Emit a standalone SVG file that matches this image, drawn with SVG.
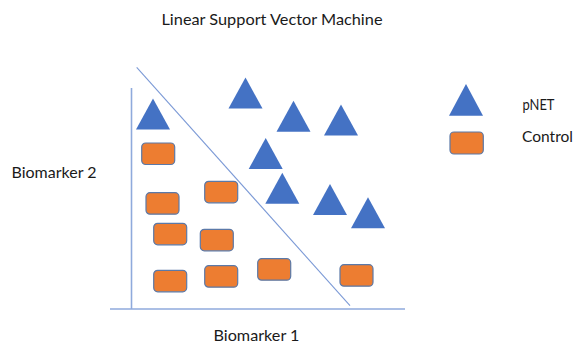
<svg xmlns="http://www.w3.org/2000/svg" width="574" height="345" viewBox="0 0 574 345">
<style>
text{font-family:Lato,"Open Sans","Liberation Sans",sans-serif;font-size:15px;fill:#1a1a1a}
.leg{font-size:16px}
.tri{fill:#4472C4}
.box{fill:#ED7D31;stroke:#5B79A8;stroke-width:1.2}
.axis{stroke:#8FAADC;stroke-width:1.6;fill:none}
.sep{stroke:#7C9AD6;stroke-width:1.1;fill:none}
</style>
<defs>
<polygon id="t" class="tri" points="0,-31 -17,0 17,0"/>
<rect id="b" class="box" x="0" y="0" width="33" height="21.5" rx="4"/>
</defs>
<g id="title"><text x="161.5" y="25" textLength="221" lengthAdjust="spacingAndGlyphs">Linear Support Vector Machine</text></g>
<g id="connectors">
<line class="axis" x1="131.5" y1="88" x2="131.5" y2="309"/>
<line class="axis" x1="110" y1="309" x2="405" y2="309"/>
<line class="sep" x1="136.7" y1="67.3" x2="350" y2="305.7"/>
</g>
<g id="label-y"><text x="11.5" y="177.5" textLength="85" lengthAdjust="spacingAndGlyphs">Biomarker 2</text></g>
<g id="label-x"><text x="213.5" y="341" textLength="86" lengthAdjust="spacingAndGlyphs">Biomarker 1</text></g>
<g id="pnet-points">
<use href="#t" x="153" y="129.5"/>
<use href="#t" x="245.5" y="108.5"/>
<use href="#t" x="293.5" y="131.8"/>
<use href="#t" x="341" y="135.5"/>
<use href="#t" x="265.7" y="169"/>
<use href="#t" x="282.3" y="203.7"/>
<use href="#t" x="330" y="215"/>
<use href="#t" x="368" y="228.3"/>
</g>
<g id="control-points">
<use href="#b" x="141.7" y="143"/>
<use href="#b" x="146" y="192.7"/>
<use href="#b" x="204.7" y="181.3"/>
<use href="#b" x="153.7" y="223.3"/>
<use href="#b" x="200.3" y="229.3"/>
<use href="#b" x="153.7" y="270.3"/>
<use href="#b" x="204.7" y="265.7"/>
<use href="#b" x="257.7" y="258.7"/>
<use href="#b" x="340" y="264.7"/>
</g>
<g id="legend-pnet">
<polygon class="tri" points="466,84 449,115.7 483,115.7"/>
<text class="leg" x="522.5" y="109.5" textLength="32" lengthAdjust="spacingAndGlyphs">pNET</text>
</g>
<g id="legend-control">
<rect class="box" x="450" y="132" width="33.3" height="22" rx="4"/>
<text class="leg" x="522" y="142" textLength="51" lengthAdjust="spacingAndGlyphs">Control</text>
</g>
</svg>
